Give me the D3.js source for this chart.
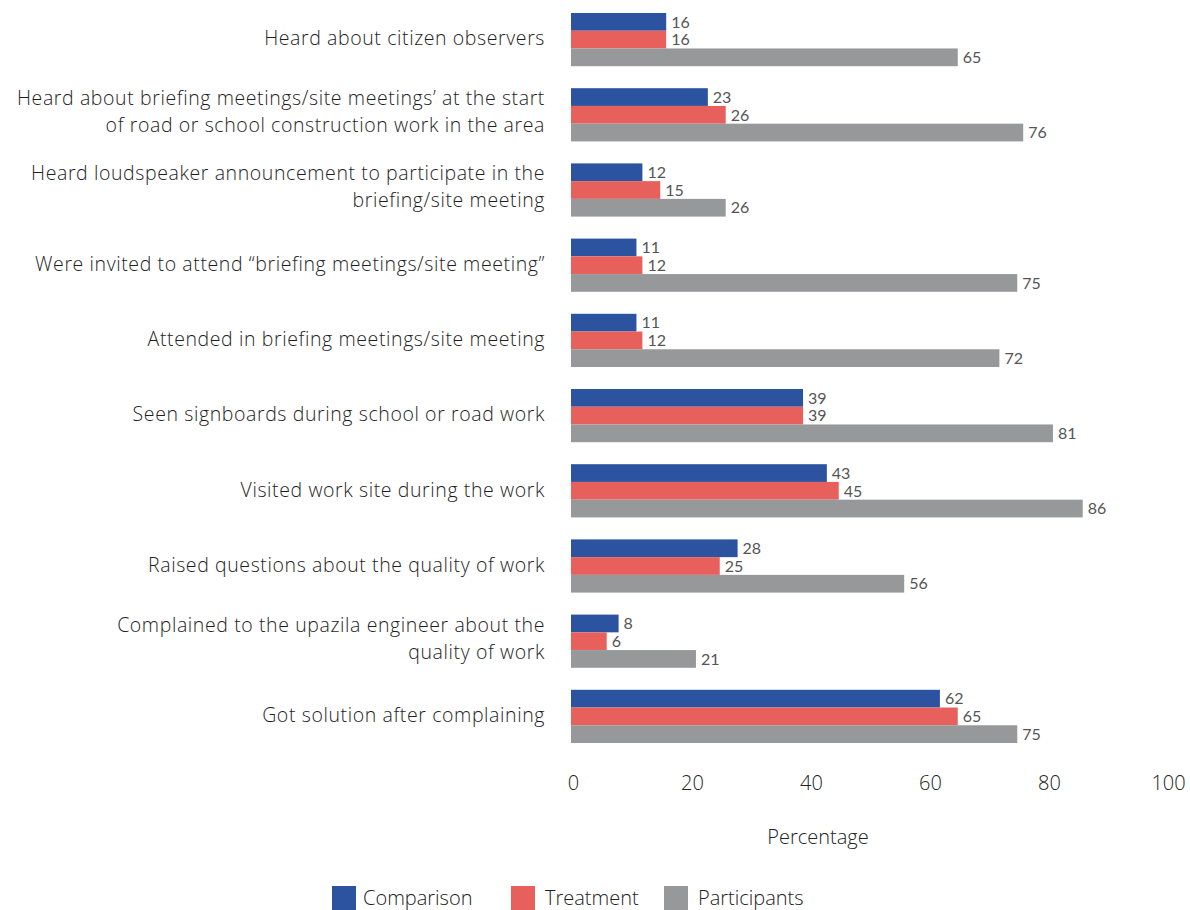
<!DOCTYPE html>
<html>
<head>
<meta charset="utf-8">
<script src="https://cdn.jsdelivr.net/npm/d3@7"></script>
<style>
  body { margin: 0; background: #fff; }
  svg { display: block; }
  .cat { font-family: "Open Sans", sans-serif; font-weight: 300; font-size: 19.5px; letter-spacing: 0.6px; fill: #1e1e1e; }
  .val { font-family: Lato, sans-serif; font-weight: 400; font-size: 16px; fill: #555; }
  .axis text { font-family: "Open Sans", sans-serif; font-weight: 300; font-size: 20px; fill: #222; }
  .axis path, .axis line { display: none; }
  .legend text { font-family: "Open Sans", sans-serif; font-weight: 300; font-size: 20px; fill: #222; }
</style>
</head>
<body>
<div id="chart"></div>
<script>
const categories = [
  ["Heard about citizen observers"],
  ["Heard about briefing meetings/site meetings\u2019 at the start", "of road or school construction work in the area"],
  ["Heard loudspeaker announcement to participate in the", "briefing/site meeting"],
  ["Were invited to attend \u201cbriefing meetings/site meeting\u201d"],
  ["Attended in briefing meetings/site meeting"],
  ["Seen signboards during school or road work"],
  ["Visited work site during the work"],
  ["Raised questions about the quality of work"],
  ["Complained to the upazila engineer about the", "quality of work"],
  ["Got solution after complaining"]
];
const comparison = [16, 23, 12, 11, 11, 39, 43, 28, 8, 62];
const treatment = [16, 26, 15, 12, 12, 39, 45, 25, 6, 65];
const participants = [65, 76, 26, 75, 72, 81, 86, 56, 21, 75];
const seriesNames = ["Comparison", "Treatment", "Participants"];
const colors = ["#2b53a0", "#e8605c", "#979899"];
const xTicks = [0, 20, 40, 60, 80, 100];

const width = 1190, height = 910;
const margin = { top: 13, left: 571, right: 24 };
const plotW = 1166 - margin.left;
const groupPitch = 75.2, groupGap = 22;
const plotH = groupPitch * categories.length - groupGap;

const svg = d3.select("#chart").append("svg")
  .attr("width", width).attr("height", height);

const g = svg.append("g")
  .attr("transform", "translate(" + margin.left + "," + margin.top + ")");

const x = d3.scaleLinear().domain([0, 100]).range([0, plotW]);
const y = d3.scaleBand()
  .domain(d3.range(categories.length))
  .range([0, plotH])
  .paddingInner(groupGap / groupPitch)
  .paddingOuter(0);
const ySub = d3.scaleBand().domain([0, 1, 2]).range([0, y.bandwidth()]);

const series = [comparison, treatment, participants];

series.forEach((vals, s) => {
  const grp = g.append("g");
  grp.selectAll("rect")
    .data(vals)
    .enter().append("rect")
    .attr("x", x(0))
    .attr("y", (d, i) => y(i) + ySub(s))
    .attr("width", d => x(d) - x(0))
    .attr("height", ySub.bandwidth())
    .attr("fill", colors[s]);
  grp.selectAll("text")
    .data(vals)
    .enter().append("text")
    .attr("class", "val")
    .attr("x", d => x(d) + 5)
    .attr("y", (d, i) => y(i) + ySub(s) + ySub.bandwidth() / 2)
    .attr("dy", "0.36em")
    .text(d => d);
});

// category labels
const lineH = 27;
const labels = g.append("g");
categories.forEach((lines, i) => {
  const cy = y(i) + y.bandwidth() / 2;
  const t = labels.append("text")
    .attr("class", "cat")
    .attr("text-anchor", "end")
    .attr("x", -26)
    .attr("y", cy - (lines.length === 1 ? 1 : 3) - (lines.length - 1) * lineH / 2);
  lines.forEach((ln, k) => {
    t.append("tspan")
      .attr("x", -26)
      .attr("dy", k === 0 ? "0.35em" : lineH)
      .text(ln);
  });
});

// x axis
g.append("g")
  .attr("class", "axis")
  .attr("transform", "translate(2," + (plotH + 33) + ")")
  .call(d3.axisBottom(x).tickValues(xTicks).tickSize(0).tickPadding(0));

g.append("text")
  .attr("x", x(41.5))
  .attr("y", 831)
  .attr("text-anchor", "middle")
  .style("font-family", "'Open Sans', sans-serif")
  .style("font-weight", 300)
  .style("font-size", "20px")
  .style("fill", "#222")
  .text("Percentage");

// legend
const legendX = [332, 511, 664];
const legendGap = [31, 34, 34];
const legend = svg.append("g").attr("class", "legend");
seriesNames.forEach((name, i) => {
  legend.append("rect")
    .attr("x", legendX[i]).attr("y", 886)
    .attr("width", 24).attr("height", 24)
    .attr("fill", colors[i]);
  legend.append("text")
    .attr("x", legendX[i] + legendGap[i]).attr("y", 898)
    .attr("dy", "0.35em")
    .text(name);
});
</script>
</body>
</html>
